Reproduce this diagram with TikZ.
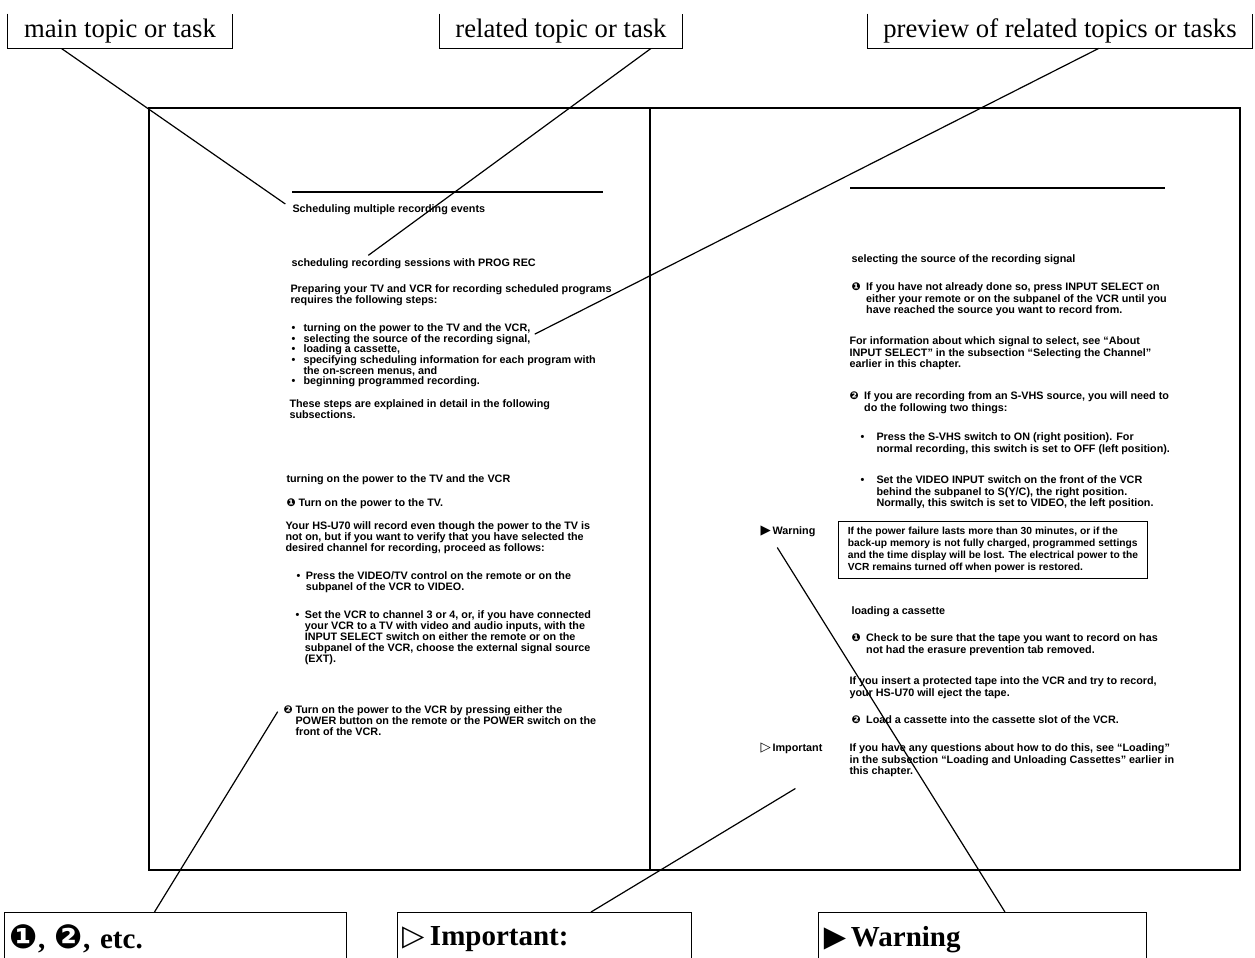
\documentclass[tikz,border=0pt]{standalone}
\usepackage{fontspec}
\setmainfont{Liberation Serif}
\setsansfont{Liberation Sans}
\newfontfamily\dingfont{DejaVu Sans}
\usetikzlibrary{calc}

\newcommand{\pagefont}{\sffamily\bfseries\fontsize{8.1}{8.3}\selectfont}
\newcommand{\rpagefont}{\sffamily\bfseries\fontsize{8.1}{8.8}\selectfont}
\newcommand{\notefont}{\sffamily\bfseries\fontsize{7.7}{8.8}\selectfont}
\newcommand{\numone}{{\dingfont ❶}}
\newcommand{\numtwo}{{\dingfont ❷}}
\newcommand{\bignum}[1]{{\dingfont\fontsize{25}{26}\selectfont #1}}

\tikzset{every picture/.style={line width=0.75pt}}
\tikzset{
  calloutlbl/.style={inner sep=0pt, minimum height=25.5pt, font=\fontsize{20}{24}\selectfont},
  legendbox/.style={anchor=north west, inner xsep=4pt, inner ysep=0pt, minimum height=40pt, align=left, font=\bfseries\fontsize{21.75}{26}\selectfont},
  pagetext/.style={anchor=north west, inner sep=0pt, align=left, font=\pagefont},
  rpagetext/.style={anchor=north west, inner sep=0pt, align=left, font=\rpagefont},
  pointer/.style={line width=0.9pt},
  spread/.style={line width=1.6pt},
  pagerule/.style={line width=1.1pt},
}

\begin{document}
\begin{tikzpicture}[x=0.75pt,y=0.75pt,yscale=-1,xscale=1]
    \useasboundingbox (0,0) rectangle (1255,957);

    %Shape: Rectangle (two page spread)
    \draw [spread] (149,108) -- (1240,108) -- (1240,870) -- (149,870) -- cycle ;
    \draw [spread] (650,108) -- (650,870) ;
    % page rules
    \draw [pagerule] (292,192) -- (603,192) ;
    \draw [pagerule] (850,188) -- (1165,188) ;

    % Callout labels (top)
    \node [calloutlbl, minimum width=168pt] (maintopic) at (120,31) {main topic or task};
    \draw (maintopic.north west) |- (maintopic.south east) -- (maintopic.north east) ;
    \node [calloutlbl, minimum width=181.5pt] (reltopic) at (561,31) {related topic or task};
    \draw (reltopic.north west) |- (reltopic.south east) -- (reltopic.north east) ;
    \node [calloutlbl, minimum width=288pt] (preview) at (1060,31) {preview of related topics or tasks};
    \draw (preview.north west) |- (preview.south east) -- (preview.north east) ;

    % Callout labels (bottom)
    \node [legendbox, text width=247.75pt] (numbox) at (4,912) {\bignum{❶}, \bignum{❷}, etc.};
    \draw (numbox.south west) |- (numbox.north east) -- (numbox.south east) ;
    \node [legendbox, text width=211.75pt] (impbox) at (397,912) {{\mdseries\dingfont ▷}\,Important:};
    \draw (impbox.south west) |- (impbox.north east) -- (impbox.south east) ;
    \node [legendbox, text width=237.25pt] (warnbox) at (818,912) {{\dingfont ▶}\,Warning};
    \draw (warnbox.south west) |- (warnbox.north east) -- (warnbox.south east) ;

    % Text Node -- left page
    \node [pagetext] (hd1) at (292,204) {Scheduling multiple recording events};
    \node [pagetext] (hd2) at (291,258) {scheduling recording sessions with PROG REC};
    \node [pagetext] (para1) at (290,284) {Preparing your TV and VCR for recording scheduled programs\\requires the following steps:};
    \node [pagetext] (item1) at (291,323) {\makebox[9pt][l]{•}turning on the power to the TV and the VCR,};
    \node [pagetext] (item2) at (291,334) {\makebox[9pt][l]{•}selecting the source of the recording signal,};
    \node [pagetext] (item3) at (291,344) {\makebox[9pt][l]{•}loading a cassette,};
    \node [pagetext] (item4) at (291,355) {\makebox[9pt][l]{•}specifying scheduling information for each program with\\\hspace*{9pt}the on-screen menus, and};
    \node [pagetext] (item5) at (291,376) {\makebox[9pt][l]{•}beginning programmed recording.};
    \node [pagetext] (para2) at (289,399) {These steps are explained in detail in the following\\subsections.};
    \node [pagetext] (hd3) at (286,474) {turning on the power to the TV and the VCR};
    \node [pagetext] (step1) at (286,498) {\makebox[9pt][l]{\numone}Turn on the power to the TV.};
    \node [pagetext] (para3) at (285,521) {Your HS-U70 will record even though the power to the TV is\\not on, but if you want to verify that you have selected the\\desired channel for recording, proceed as follows:};
    \node [pagetext] (sub1) at (296,571) {\makebox[7pt][l]{•}Press the VIDEO/TV control on the remote or on the\\\hspace*{7pt}subpanel of the VCR to VIDEO.};
    \node [pagetext] (sub2) at (295,610) {\makebox[7pt][l]{•}Set the VCR to channel 3 or 4, or, if you have connected\\\hspace*{7pt}your VCR to a TV with video and audio inputs, with the\\\hspace*{7pt}INPUT SELECT switch on either the remote or on the\\\hspace*{7pt}subpanel of the VCR, choose the external signal source\\\hspace*{7pt}(EXT).};
    \node [pagetext] (step2) at (283,705) {\makebox[9pt][l]{\numtwo}Turn on the power to the VCR by pressing either the\\\hspace*{9pt}POWER button on the remote or the POWER switch on the\\\hspace*{9pt}front of the VCR.};

    % Text Node -- right page
    \node [rpagetext] (hd4) at (851,254) {selecting the source of the recording signal};
    \node [rpagetext] (rstep1) at (851,282) {\makebox[11pt][l]{\numone}If you have not already done so, press INPUT SELECT on\\\hspace*{11pt}either your remote or on the subpanel of the VCR until you\\\hspace*{11pt}have reached the source you want to record from.};
    \node [rpagetext] (para4) at (849,336) {For information about which signal to select, see “About\\INPUT SELECT” in the subsection “Selecting the Channel”\\earlier in this chapter.};
    \node [rpagetext] (rstep2) at (849,391) {\makebox[11pt][l]{\numtwo}If you are recording from an S-VHS source, you will need to\\\hspace*{11pt}do the following two things:};
    \node [rpagetext] (sub3) at (860,432) {\makebox[12pt][l]{•}Press the S-VHS switch to ON (right position). For\\\hspace*{12pt}normal recording, this switch is set to OFF (left position).};
    \node [rpagetext] (sub4) at (860,475) {\makebox[12pt][l]{•}Set the VIDEO INPUT switch on the front of the VCR\\\hspace*{12pt}behind the subpanel to S(Y/C), the right position.\\\hspace*{12pt}Normally, this switch is set to VIDEO, the left position.};
    \node [rpagetext] (warnlbl) at (760,525) {{\dingfont\fontsize{10}{10}\selectfont ▶}\,Warning};
    \node [rpagetext, font=\notefont, draw, line width=0.8pt, inner xsep=7pt, inner ysep=4.5pt] (warnnote) at (838,521) {If the power failure lasts more than 30 minutes, or if the\\back-up memory is not fully charged, programmed settings\\and the time display will be lost. The electrical power to the\\VCR remains turned off when power is restored.};
    \node [rpagetext] (hd5) at (851,606) {loading a cassette};
    \node [rpagetext] (rstep3) at (851,633) {\makebox[11pt][l]{\numone}Check to be sure that the tape you want to record on has\\\hspace*{11pt}not had the erasure prevention tab removed.};
    \node [rpagetext] (para5) at (849,676) {If you insert a protected tape into the VCR and try to record,\\your HS-U70 will eject the tape.};
    \node [rpagetext] (rstep4) at (851,715) {\makebox[11pt][l]{\numtwo}Load a cassette into the cassette slot of the VCR.};
    \node [rpagetext] (implbl) at (760,742) {{\mdseries\dingfont\fontsize{10}{10}\selectfont ▷}\,Important};
    \node [rpagetext] (para6) at (849,743) {If you have any questions about how to do this, see “Loading”\\in the subsection “Loading and Unloading Cassettes” earlier in\\this chapter.};

    %Straight Lines (pointers)
    \draw [pointer] ($(maintopic.south west)!0.24!(maintopic.south east)$) -- ([xshift=-5pt]hd1.north west) ;
    \draw [pointer] ($(reltopic.south west)!0.87!(reltopic.south east)$) -- ([xshift=58pt,yshift=-2pt]hd2.north west) ;
    \draw [pointer] ($(preview.south west)!0.6!(preview.south east)$) -- ([xshift=3pt]item1.south east) ;
    \draw [pointer] ($(numbox.north west)!0.44!(numbox.north east)$) -- ([xshift=-4pt,yshift=5pt]step2.north west) ;
    \draw [pointer] ($(impbox.north west)!0.66!(impbox.north east)$) -- ([xshift=3pt,yshift=26pt]implbl.south) ;
    \draw [pointer] ($(warnbox.north west)!0.57!(warnbox.north east)$) -- ([xshift=-8pt,yshift=8pt]warnlbl.south) ;
\end{tikzpicture}
\end{document}
